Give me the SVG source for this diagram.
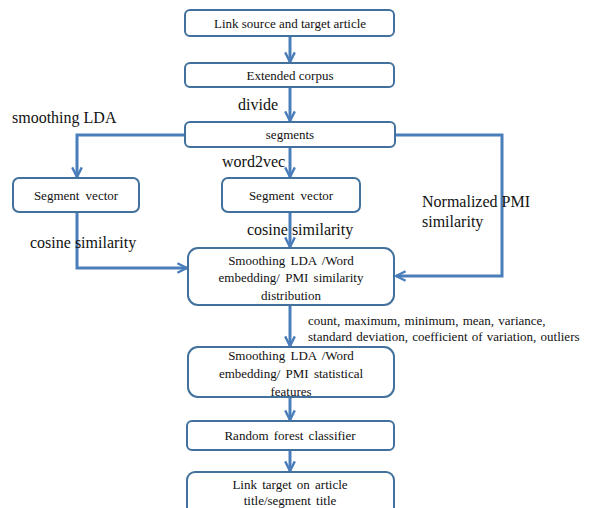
<svg xmlns="http://www.w3.org/2000/svg" width="611" height="508" viewBox="0 0 611 508">
<style>
.box{fill:#fff;stroke:#41719c;stroke-width:2}
.t{font-family:'Liberation Serif',serif;font-size:13px;fill:#111;text-anchor:middle}
.l{font-family:'Liberation Serif',serif;font-size:16px;fill:#111}
.s{font-family:'Liberation Serif',serif;font-size:13px;fill:#111}
.c{fill:none;stroke:#4a7ebb;stroke-width:3}
</style>
<defs>
<marker id="a" viewBox="0 0 10 10" refX="9" refY="5" markerWidth="4" markerHeight="4" orient="auto" markerUnits="strokeWidth">
<path d="M1,1 L9,5 L1,9" fill="none" stroke="#4a7ebb" stroke-width="2"/>
</marker>
</defs>
<rect width="611" height="508" fill="#fff"/>
<g id="connectors">
<path class="c" d="M290,37 V62" marker-end="url(#a)"/>
<path class="c" d="M290,88 V121" marker-end="url(#a)"/>
<path class="c" d="M185,135 H77 V177" marker-end="url(#a)"/>
<path class="c" d="M290,148 V177" marker-end="url(#a)"/>
<path class="c" d="M395,135 H502 V276 H396" marker-end="url(#a)"/>
<path class="c" d="M77,213 V268 H187" marker-end="url(#a)"/>
<path class="c" d="M290,213 V247" marker-end="url(#a)"/>
<path class="c" d="M290,306 V346" marker-end="url(#a)"/>
<path class="c" d="M290,398 V420" marker-end="url(#a)"/>
<path class="c" d="M290,451 V471" marker-end="url(#a)"/>
</g>
<g id="n1"><rect class="box" x="185" y="10" width="209" height="26" rx="5"/><text class="t" style="font-family:'Liberation Serif',serif" x="290" y="28">Link source and target article</text></g>
<g id="n2"><rect class="box" x="185" y="63" width="209" height="24" rx="5"/><text class="t" style="font-family:'Liberation Serif',serif" x="290" y="80">Extended corpus</text></g>
<g id="n3"><rect class="box" x="185" y="122" width="210" height="25" rx="5"/><text class="t" style="font-family:'Liberation Serif',serif" x="290" y="139">segments</text></g>
<g id="n4"><rect class="box" x="13" y="178" width="126" height="34" rx="6"/><text class="t" style="font-family:'Liberation Serif',serif" x="76" y="200" word-spacing="3">Segment vector</text></g>
<g id="n5"><rect class="box" x="222" y="178" width="138" height="34" rx="6"/><text class="t" style="font-family:'Liberation Serif',serif" x="291" y="200" word-spacing="3">Segment vector</text></g>
<g id="n6"><rect class="box" x="188" y="248" width="206" height="57" rx="10"/><text class="t" style="font-family:'Liberation Serif',serif" x="291" y="265" word-spacing="2">Smoothing LDA /Word</text><text class="t" style="font-family:'Liberation Serif',serif" x="291" y="282" word-spacing="2">embedding/ PMI similarity</text><text class="t" style="font-family:'Liberation Serif',serif" x="291" y="300">distribution</text></g>
<g id="n7"><rect class="box" x="188" y="347" width="206" height="50" rx="10"/><text class="t" style="font-family:'Liberation Serif',serif" x="291" y="360" word-spacing="2">Smoothing LDA /Word</text><text class="t" style="font-family:'Liberation Serif',serif" x="291" y="378" word-spacing="2">embedding/ PMI statistical</text><text class="t" style="font-family:'Liberation Serif',serif" x="291" y="396">features</text></g>
<g id="n8"><rect class="box" x="187" y="421" width="207" height="29" rx="5"/><text class="t" style="font-family:'Liberation Serif',serif" x="290" y="440" word-spacing="2">Random forest  classifier</text></g>
<g id="n9"><rect class="box" x="187" y="472" width="207" height="50" rx="8"/><text class="t" style="font-family:'Liberation Serif',serif" x="290" y="489" word-spacing="2">Link target on article</text><text class="t" style="font-family:'Liberation Serif',serif" x="290" y="505" word-spacing="2">title/segment title</text></g>
<g id="labels">
<text class="l" style="font-family:'Liberation Serif',serif" x="278" y="110" text-anchor="end">divide</text>
<text class="l" style="font-family:'Liberation Serif',serif" x="12" y="123">smoothing LDA</text>
<text class="l" style="font-family:'Liberation Serif',serif" x="222" y="167">word2vec</text>
<text class="l" style="font-family:'Liberation Serif',serif" x="30" y="248">cosine similarity</text>
<text class="l" style="font-family:'Liberation Serif',serif" x="247" y="235">cosine similarity</text>
<text class="l" style="font-family:'Liberation Serif',serif" x="422" y="207">Normalized PMI</text>
<text class="l" style="font-family:'Liberation Serif',serif" x="422" y="227">similarity</text>
<text class="s" style="font-family:'Liberation Serif',serif" x="308" y="325" word-spacing="1">count, maximum, minimum, mean, variance,</text>
<text class="s" style="font-family:'Liberation Serif',serif" x="308" y="341" word-spacing="1">standard deviation, coefficient  of variation, outliers</text>
</g>
</svg>
